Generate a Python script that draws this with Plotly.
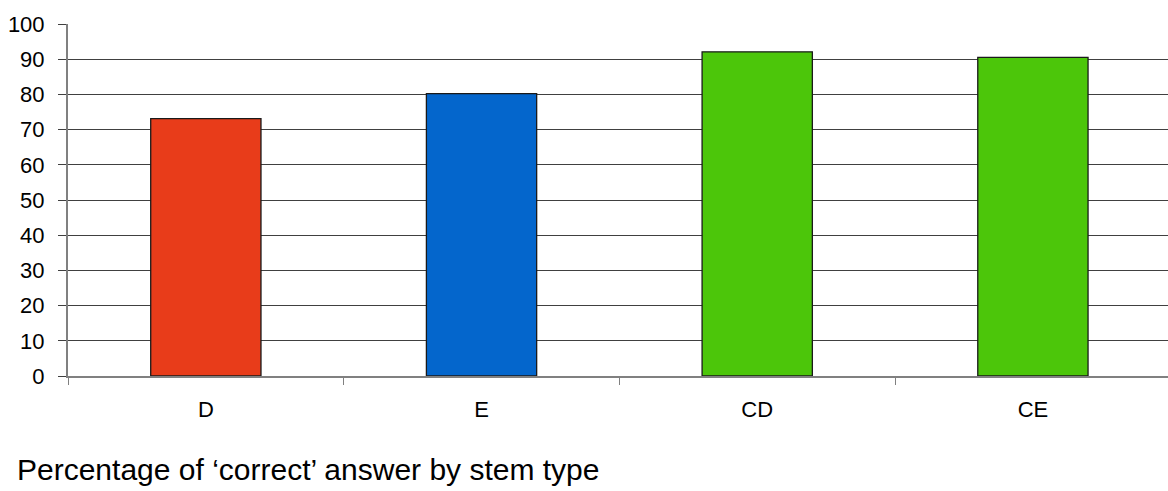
import plotly.graph_objects as go

categories = ["D", "E", "CD", "CE"]
percent_correct = [73.1, 80.2, 92.1, 90.5]
bar_colors = ["#E83C1A", "#0466CC", "#4CC60A", "#4CC60A"]
y_ticks = list(range(0, 101, 10))

W, H = 1168, 491
L, T, B = 68, 24, 115

fig = go.Figure(
    go.Bar(
        x=categories,
        y=percent_correct,
        marker=dict(color=bar_colors, line=dict(color="#1a1a1a", width=1.3)),
        width=0.40,
    )
)

fig.update_layout(
    width=W,
    height=H,
    margin=dict(l=L, r=0, t=T, b=B, pad=0),
    plot_bgcolor="white",
    paper_bgcolor="white",
    showlegend=False,
    font=dict(family="Liberation Sans, Arial, sans-serif", color="#000000", size=22),
    title=dict(
        text="Percentage of \u2018correct\u2019 answer by stem type",
        xref="container",
        yref="container",
        x=17 / W,
        xanchor="left",
        y=1 - 469 / H,
        yanchor="middle",
        font=dict(size=30, family="Liberation Sans, Arial, sans-serif", color="#000000"),
    ),
)

fig.update_xaxes(
    range=[-0.5, 3.49],
    showgrid=False,
    showline=True,
    linecolor="#808080",
    linewidth=2,
    ticks="outside",
    tickson="boundaries",
    ticklen=7,
    tickwidth=1.3,
    tickcolor="#808080",
    ticklabelstandoff=13,
    tickfont=dict(size=22),
    zeroline=False,
)

fig.update_yaxes(
    range=[0, 100],
    tickvals=y_ticks,
    showgrid=True,
    gridcolor="#404040",
    gridwidth=1,
    showline=True,
    linecolor="#808080",
    linewidth=2,
    ticks="outside",
    ticklen=8,
    tickwidth=1.3,
    tickcolor="#404040",
    ticklabelstandoff=9,
    tickfont=dict(size=22),
    zeroline=False,
)

fig.write_html("out.html")
